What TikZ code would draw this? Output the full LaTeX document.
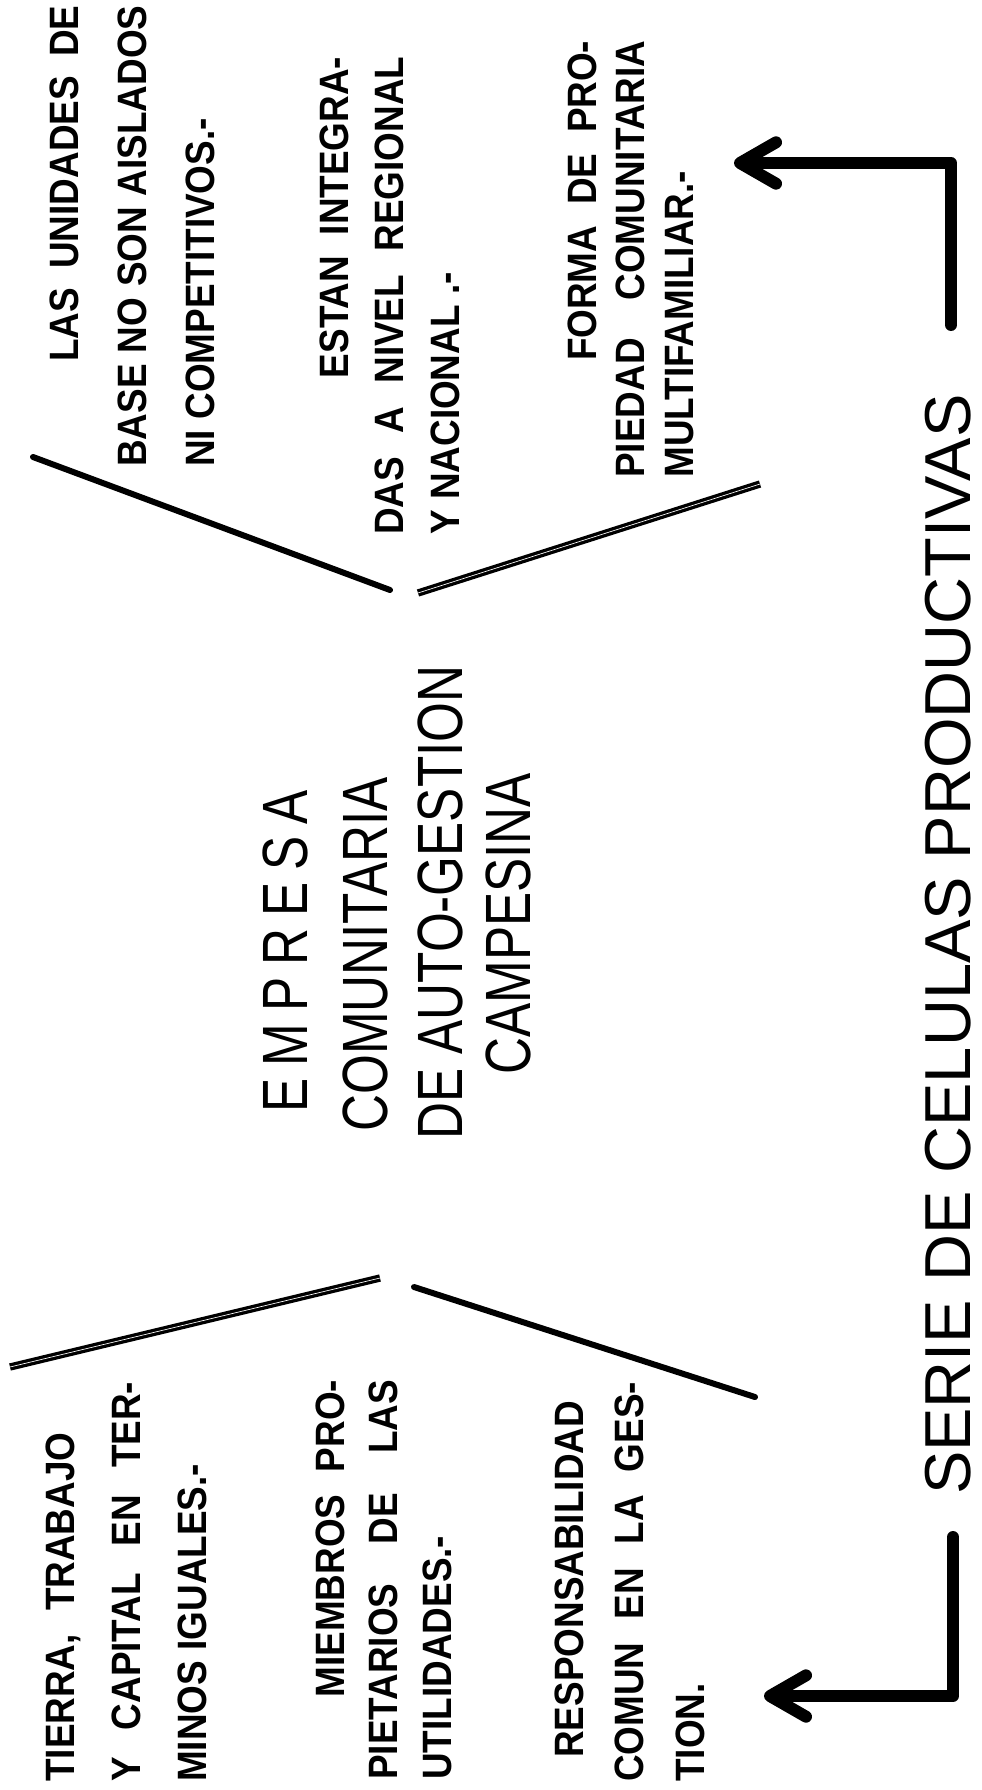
\documentclass[tikz,border=0pt]{standalone}
\usepackage{fontspec}
\setmainfont{Liberation Sans}
\newfontfamily\notafont[FakeStretch=0.9]{Liberation Sans Bold}
\newfontfamily\centrofont[FakeStretch=0.8]{Liberation Sans}
\usetikzlibrary{arrows.meta}
\tikzset{
  nota/.style={rotate=90, anchor=north west, inner sep=0pt, align=justify,
    font=\notafont\fontsize{30.75}{#1}\selectfont},
  renglon/.style={rotate=90, anchor=west, inner sep=0pt,
    font=\centrofont\fontsize{48}{48}\selectfont},
  raya/.style={line width=4.5pt, line cap=round},
  rayadoble/.style={double, double distance=0.5pt, line width=2.5pt},
  flecha/.style={line width=9pt, line cap=round, line join=round,
    -{Straight Barb[round,length=27pt,width=31pt]}}
}
\begin{document}
\begin{tikzpicture}[x=0.75pt,y=0.75pt,yscale=-1,xscale=1]
\useasboundingbox (0,0) rectangle (981,1790);

%Straight Lines (upper V)
\draw [raya] (33,457) -- (390,590) ;
\draw [rayadoble] (418,593) -- (760,484) ;
%Straight Lines (lower V)
\draw [rayadoble] (10,1367) -- (380,1278) ;
\draw [raya] (414,1287) -- (755,1397) ;

%Straight Lines (arrows)
\draw [flecha] (951,325) -- (951,163) -- (734,163) ;
\draw [flecha] (953,1537) -- (953,1696) -- (764,1696) ;

% Text Node
\draw (49.5,467) node (lasunidades) [nota=51pt, text width=346pt]
  {\hspace*{51.75pt plus 15pt}LAS UNIDADES DE\linebreak BASE NO SON AISLADOS\linebreak NI COMPETITIVOS.-};
% Text Node
\draw (319.5,535) node (estan) [nota=41.6pt, text width=358.5pt]
  {\hspace*{96.75pt plus 10pt}ESTAN INTEGRA-\linebreak DAS A NIVEL REGIONAL\linebreak Y NACIONAL .-};
% Text Node
\draw (567.5,478) node (forma) [nota=36.4pt, text width=327.75pt]
  {\hspace*{57pt plus 15pt}FORMA DE PRO-\linebreak PIEDAD COMUNITARIA\linebreak MULTIFAMILIAR.-};
% Text Node
\draw (45.5,1782) node (tierra) [nota=49.5pt, text width=300pt]
  {TIERRA, TRABAJO\hspace{0pt plus 15pt}\kern0pt\linebreak Y CAPITAL EN TER-\linebreak MINOS IGUALES.-};
% Text Node
\draw (315.5,1780) node (miembros) [nota=40pt, text width=300pt]
  {\hspace*{37.5pt plus 10pt}MIEMBROS PRO-\linebreak PIETARIOS DE LAS\linebreak UTILIDADES.-};
% Text Node
\draw (554.5,1782) node (responsabilidad) [nota=45.4pt, text width=300pt]
  {\hspace*{18pt}RESPONSABILIDAD\linebreak COMUN EN LA GES-\linebreak TION.};

% Text Node
\draw (285,1113) node (empresa) [renglon]
  {E\kern9pt M\kern9pt P\kern9pt R\kern9pt E\kern9pt S\kern9pt A};
% Text Node
\draw (365,1132) node (comunitaria) [renglon] {COMUNITARIA};
% Text Node
\draw (440,1140) node (autogestion) [renglon] {DE AUTO-GESTION};
% Text Node
\draw (508,1075) node (campesina) [renglon] {CAMPESINA};

% Text Node
\draw (948,1495) node (serie) [rotate=90, anchor=west, inner sep=0pt,
  font=\fontsize{48.75}{48.75}\selectfont] {SERIE DE CELULAS PRODUCTIVAS};
\end{tikzpicture}
\end{document}
